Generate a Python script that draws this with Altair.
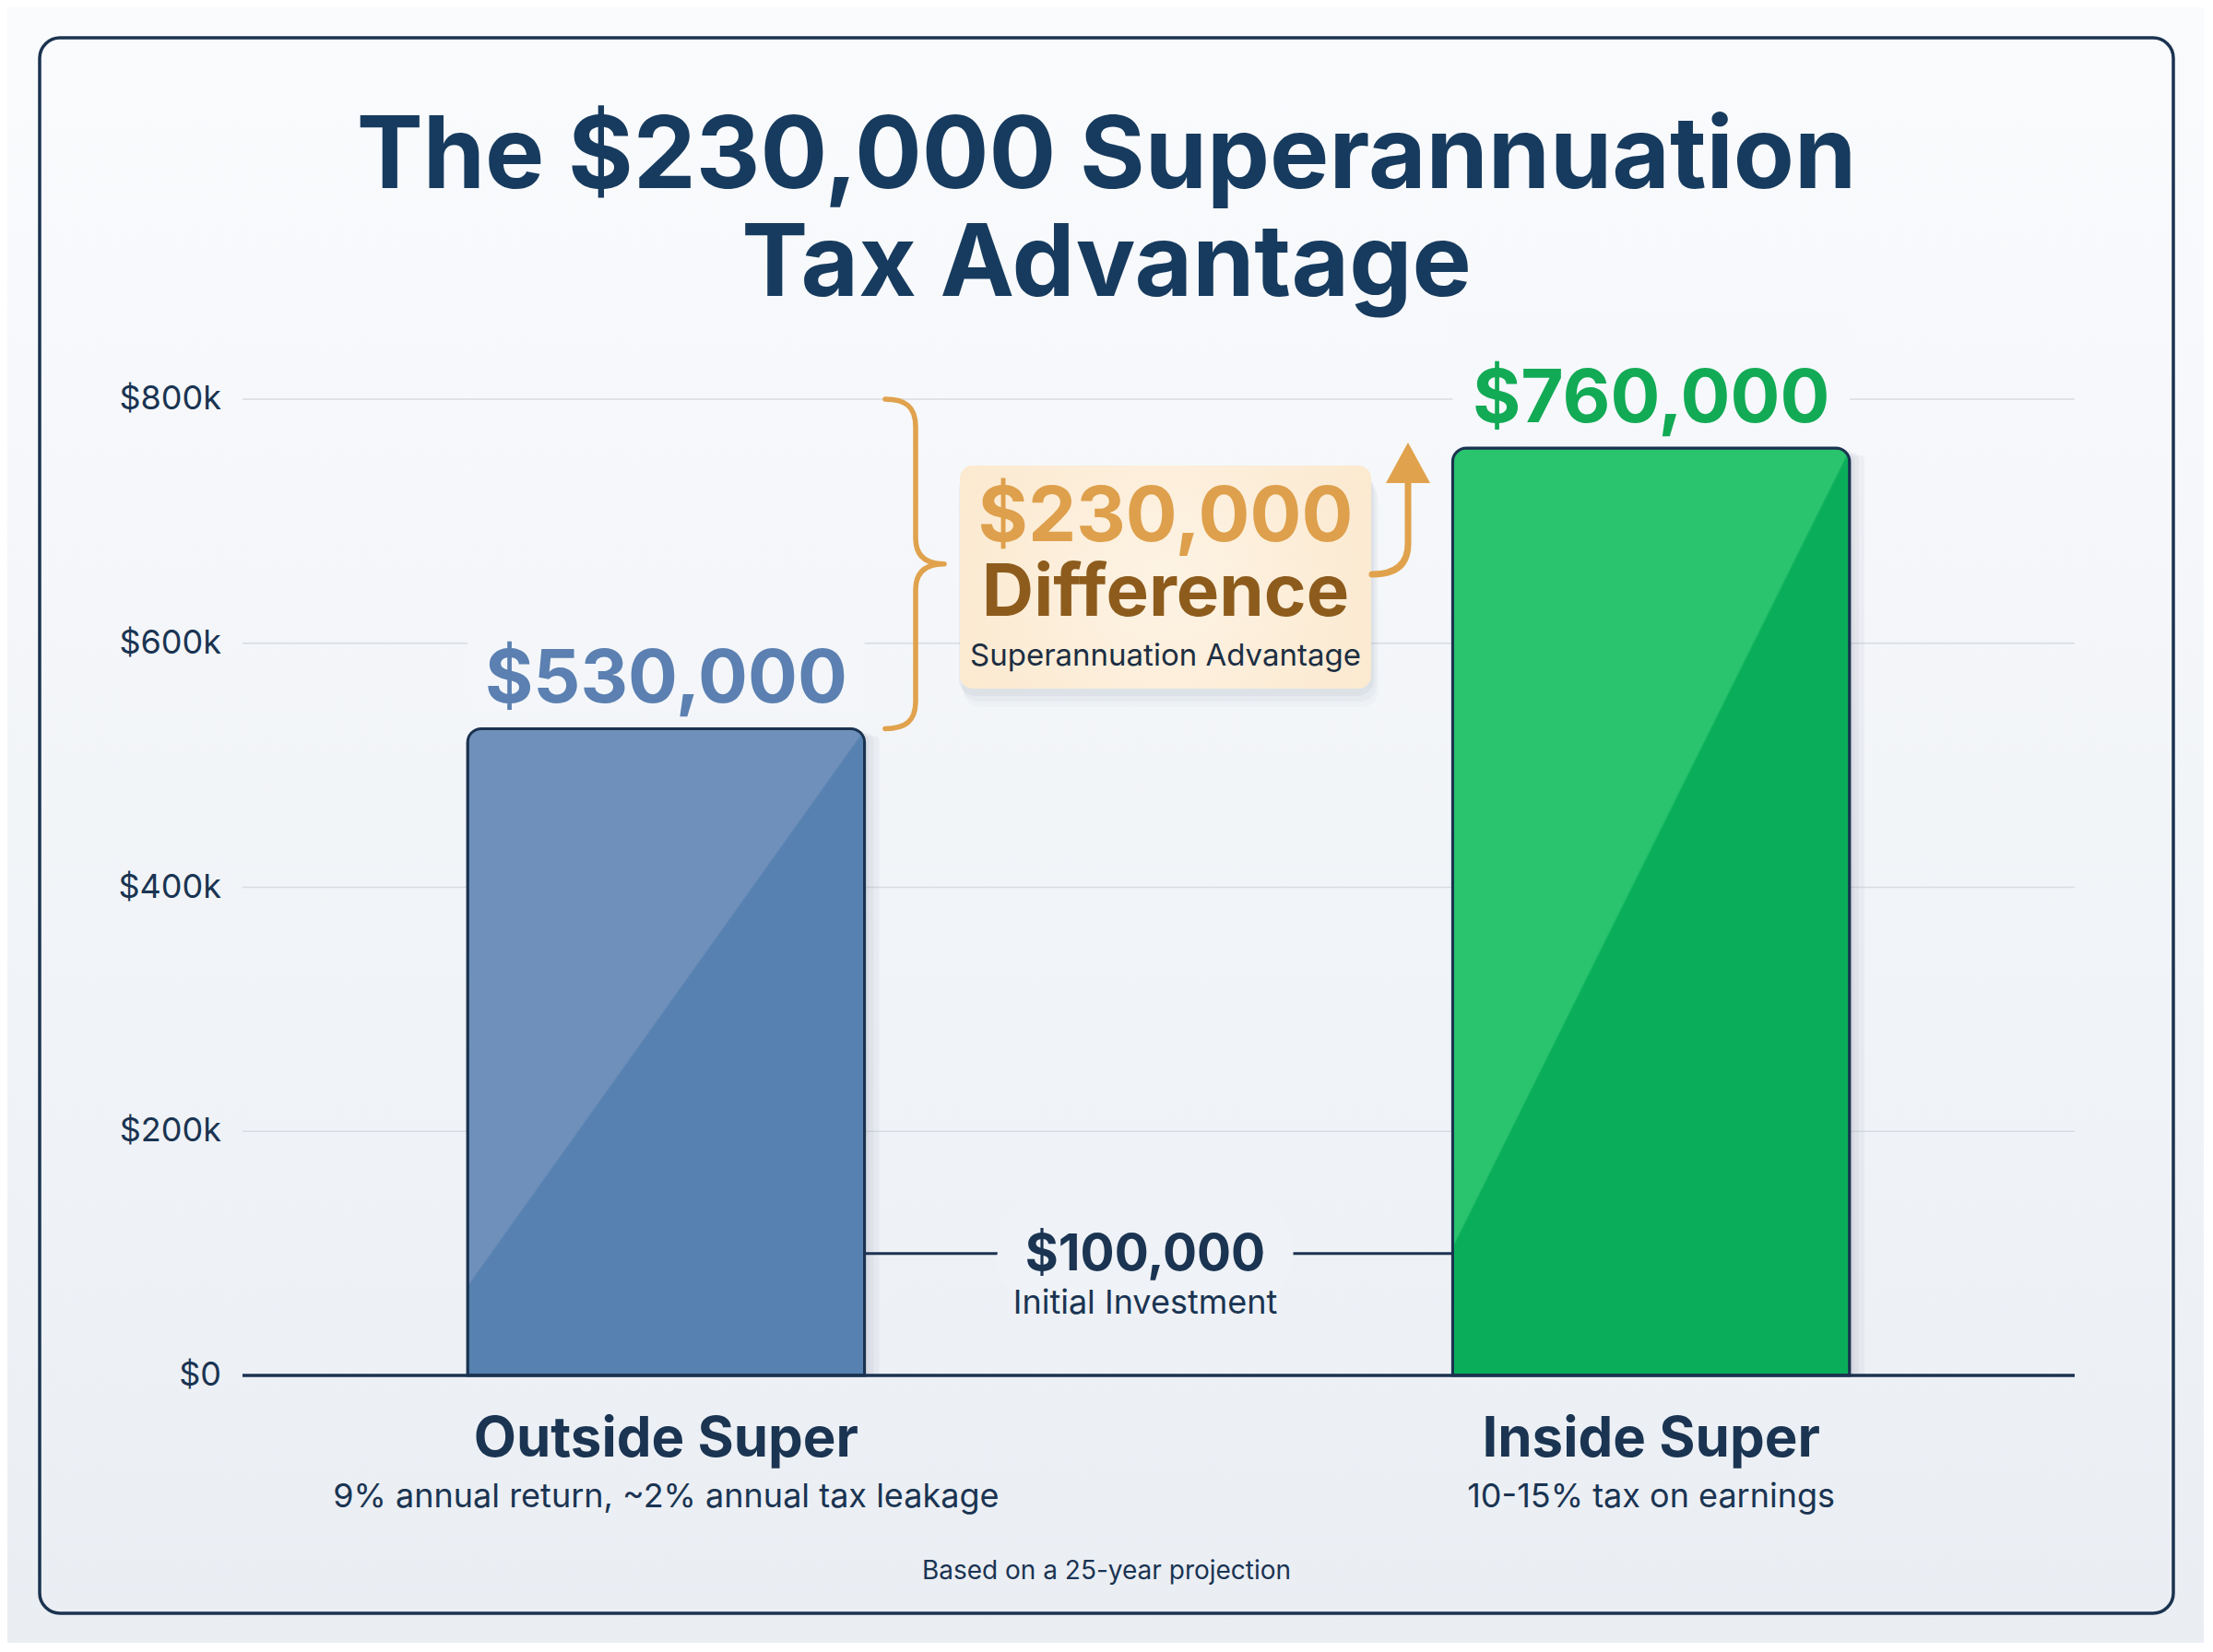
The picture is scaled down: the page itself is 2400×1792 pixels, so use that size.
import altair as alt
import pandas as pd

# ---------------- data ----------------
categories = ["Outside Super", "Inside Super"]
final_values = [530000, 760000]
descriptions = ["9% annual return, ~2% annual tax leakage", "10-15% tax on earnings"]
initial_investment = [100000]
initial_label = ["Initial Investment"]
y_ticks = [0, 200000, 400000, 600000, 800000]
title_lines = ["The $230,000 Superannuation", "Tax Advantage"]
difference_words = ["Difference", "Superannuation Advantage"]
footnote = ["Based on a 25-year projection"]

# ---------------- layout / style ----------------
FONT = "Inter"
PL, PT = 263, 433          # plot origin on the page
W, H = 1987, 1059          # plot size
NAVY = "#1b3350"
NAVY_T = "#1a3452"
TITLE_C = "#173b5e"
ORANGE = "#e0a24c"
BLUE_T = "#5b80b1"
GREEN_T = "#12aa55"


def px(x):
    return x - PL


def py(y):
    return y - PT


def money(v):
    return "${:,}".format(v)


def shape_path(segments, cx, cy, s):
    parts = []
    for cmd, pts in segments:
        coords = " ".join(f"{(x - cx) / s:.4f} {(y - cy) / s:.4f}" for x, y in pts)
        parts.append(f"{cmd} {coords}".strip())
    return " ".join(parts)


ymax = y_ticks[-1]
difference = final_values[1] - final_values[0]

bars_df = pd.DataFrame({"cat": categories, "value": final_values, "desc": descriptions})
bars_df["label"] = bars_df["value"].map(money)

xscale = alt.Scale(domain=categories, paddingInner=0.597, paddingOuter=0.2285)
yscale = alt.Scale(domain=[0, ymax], nice=False)


def X(f="cat:N", **kw):
    return alt.X(f, scale=xscale, axis=None, **kw)


def Y(f):
    return alt.Y(f, scale=yscale, axis=None)


one = pd.DataFrame({"k": [0]})
layers = []

# page background gradient
layers.append(
    alt.Chart(one).mark_rect(
        fill=alt.LinearGradient(
            gradient="linear",
            stops=[alt.GradientStop(color="#fafbfd", offset=0),
                   alt.GradientStop(color="#eaeef3", offset=1)],
            x1=0, x2=0, y1=0, y2=1)
    ).encode(x=alt.value(px(8)), x2=alt.value(px(2392)),
             y=alt.value(py(8)), y2=alt.value(py(1784)))
)

# frame
layers.append(
    alt.Chart(one).mark_rect(filled=False, stroke=NAVY, strokeWidth=3.5, cornerRadius=22)
    .encode(x=alt.value(px(43)), x2=alt.value(px(2357)),
            y=alt.value(py(41)), y2=alt.value(py(1750)))
)

# gridlines
ticks_df = pd.DataFrame({"tick": y_ticks})
layers.append(
    alt.Chart(ticks_df).transform_filter("datum.tick > 0")
    .mark_rule(color="#d7dce2", strokeWidth=1.5)
    .encode(y=Y("tick:Q"))
)

# y labels
layers.append(
    alt.Chart(ticks_df)
    .transform_calculate(lab="datum.tick == 0 ? '$0' : '$' + (datum.tick/1000) + 'k'")
    .mark_text(align="right", baseline="middle", fontSize=36, font=FONT, color=NAVY_T)
    .encode(x=alt.value(-23), y=Y("tick:Q"), text="lab:N")
)

# knock-outs behind value labels
layers.append(
    alt.Chart(bars_df)
    .transform_calculate(k0="datum.value + 15000", k1="datum.value + 110000")
    .mark_rect()
    .encode(x=X(), y=Y("k0:Q"), y2="k1:Q",
            fill=alt.Fill("cat:N", scale=alt.Scale(domain=categories, range=["#f4f6f9", "#f6f8fb"]),
                          legend=None))
)

# bar shadows
for off in [5, 10, 16]:
    layers.append(
        alt.Chart(bars_df).mark_bar(fill="#5f6e82", opacity=0.06, xOffset=off, x2Offset=off,
                                    yOffset=off * 0.5,
                                    cornerRadiusTopLeft=15, cornerRadiusTopRight=15)
        .encode(x=X(), y=Y("value:Q"))
    )

# bars with glossy diagonal gradient
bar_colors = {categories[0]: ("#6f90ba", "#5681b1"), categories[1]: ("#2ac36e", "#0aae5a")}
for cat in categories:
    light, dark = bar_colors[cat]
    grad = alt.LinearGradient(
        gradient="linear",
        stops=[alt.GradientStop(color=light, offset=0),
               alt.GradientStop(color=light, offset=0.494),
               alt.GradientStop(color=dark, offset=0.497),
               alt.GradientStop(color=dark, offset=1)],
        x1=0, y1=0, x2=0.86, y2=1)
    layers.append(
        alt.Chart(bars_df).transform_filter(alt.datum.cat == cat)
        .mark_bar(fill=grad, stroke=NAVY, strokeWidth=3,
                  cornerRadiusTopLeft=15, cornerRadiusTopRight=15)
        .encode(x=X(), y=Y("value:Q"))
    )

# baseline
layers.append(
    alt.Chart(pd.DataFrame({"zero": [y_ticks[0]]}))
    .mark_rule(color=NAVY, strokeWidth=3.5)
    .encode(y=Y("zero:Q"))
)

# value labels
layers.append(
    alt.Chart(bars_df).mark_text(dy=-28, fontSize=80, fontWeight="bold", font=FONT,
                                 baseline="alphabetic")
    .encode(x=X(), y=Y("value:Q"), text="label:N",
            color=alt.Color("cat:N", scale=alt.Scale(domain=categories, range=[BLUE_T, GREEN_T]),
                            legend=None))
)

# category labels and descriptions
layers.append(
    alt.Chart(bars_df).transform_calculate(zero="0")
    .mark_text(dy=88, fontSize=60, fontWeight="bold", font=FONT, color=NAVY_T, baseline="alphabetic")
    .encode(x=X(), y=Y("zero:Q"), text="cat:N")
)
layers.append(
    alt.Chart(bars_df).transform_calculate(zero="0")
    .mark_text(dy=143, fontSize=36, font=FONT, color=NAVY_T, baseline="alphabetic")
    .encode(x=X(), y=Y("zero:Q"), text="desc:N")
)

# initial investment connector
init_df = pd.DataFrame({"start": [categories[0]], "end": [categories[1]],
                        "amount": initial_investment,
                        "label": [money(initial_investment[0])], "sub": initial_label})
layers.append(
    alt.Chart(init_df).mark_rule(color=NAVY, strokeWidth=3)
    .encode(x=X("start:N", bandPosition=1), x2=alt.X2("end:N", bandPosition=0), y=Y("amount:Q"))
)
layers.append(
    alt.Chart(init_df).mark_text(dy=18, fontSize=55, fontWeight="bold", font=FONT,
                                 fill="#eff2f6", stroke="#eff2f6", strokeWidth=66,
                                 strokeJoin="round", baseline="alphabetic")
    .encode(x=alt.value(px(1242)), y=Y("amount:Q"), text="label:N")
)
layers.append(
    alt.Chart(init_df).mark_text(dy=18, fontSize=55, fontWeight="bold", font=FONT,
                                 color=NAVY_T, baseline="alphabetic")
    .encode(x=alt.value(px(1242)), y=Y("amount:Q"), text="label:N")
)
layers.append(
    alt.Chart(init_df).mark_text(dy=65, fontSize=36, font=FONT, color=NAVY_T, baseline="alphabetic")
    .encode(x=alt.value(px(1242)), y=Y("amount:Q"), text="sub:N")
)

# footnote
layers.append(
    alt.Chart(pd.DataFrame({"t": footnote, "zero": [0]}))
    .mark_text(dy=221, fontSize=28, font=FONT, color=NAVY_T, baseline="alphabetic")
    .encode(x=alt.value(px(1200)), y=Y("zero:Q"), text="t:N")
)

# curly brace between the two levels
T = PT + H * (1 - ymax / ymax)
B = PT + H * (1 - final_values[0] / ymax)
M = (T + B) / 2
half = (B - T) / 2
brace_path = shape_path([
    ("M", [(960, T)]),
    ("C", [(982, T), (993, T + 8), (993, T + 30)]),
    ("L", [(993, M - 28)]),
    ("C", [(993, M - 8), (1005, M), (1024, M)]),
    ("C", [(1005, M), (993, M + 8), (993, M + 28)]),
    ("L", [(993, B - 30)]),
    ("C", [(993, B - 8), (982, B), (960, B)]),
], 991.5, M, half)
brace_df = pd.DataFrame({"lo": [final_values[0]], "hi": [ymax]})
layers.append(
    alt.Chart(brace_df).transform_calculate(mid="(datum.lo + datum.hi) / 2")
    .mark_point(shape=brace_path, size=(2 * half) ** 2, filled=False, stroke=ORANGE,
                strokeWidth=5.5, opacity=1, strokeCap="round", strokeJoin="round")
    .encode(x=alt.value(px(991.5)), y=Y("mid:Q"))
)

# difference box: shadow + box
for dx_, dy_, op in [(3, 8, 0.10), (6, 14, 0.06), (8, 20, 0.04)]:
    layers.append(
        alt.Chart(one).mark_rect(fill="#7f8ea3", opacity=op, cornerRadius=18)
        .encode(x=alt.value(px(1041 + dx_ - 4)), x2=alt.value(px(1487 + dx_)),
                y=alt.value(py(505 + dy_)), y2=alt.value(py(747 + dy_)))
    )
layers.append(
    alt.Chart(one).mark_rect(
        cornerRadius=14,
        fill=alt.RadialGradient(
            gradient="radial",
            stops=[alt.GradientStop(color="#fdf3e4", offset=0),
                   alt.GradientStop(color="#fbe6c9", offset=1)],
            x1=0.5, y1=0.5, r1=0, x2=0.5, y2=0.5, r2=0.75))
    .encode(x=alt.value(px(1041)), x2=alt.value(px(1487)),
            y=alt.value(py(505)), y2=alt.value(py(747)))
)
box_df = pd.DataFrame({"amt": [money(difference)], "w1": [difference_words[0]],
                       "w2": [difference_words[1]]})
layers.append(
    alt.Chart(box_df).mark_text(fontSize=83, fontWeight="bold", font=FONT, color="#dea04c",
                                baseline="alphabetic")
    .encode(x=alt.value(px(1264)), y=alt.value(py(587)), text="amt:N")
)
layers.append(
    alt.Chart(box_df).mark_text(fontSize=78, fontWeight="bold", font=FONT, color="#8d5c1d",
                                baseline="alphabetic")
    .encode(x=alt.value(px(1264)), y=alt.value(py(668)), text="w1:N")
)
layers.append(
    alt.Chart(box_df).mark_text(fontSize=33, font=FONT, color="#1c2e42", baseline="alphabetic")
    .encode(x=alt.value(px(1264)), y=alt.value(py(722)), text="w2:N")
)

# arrow from box up to the green bar level
ACX, ACY, AS = 1515, 552, 80
stem = shape_path([
    ("M", [(1488, 623)]),
    ("C", [(1514, 623), (1527, 612), (1527, 590)]),
    ("L", [(1527, 520)]),
], ACX, ACY, AS)
head = shape_path([
    ("M", [(1527, 480)]),
    ("L", [(1551, 524)]),
    ("L", [(1503, 524)]),
    ("Z", []),
], ACX, ACY, AS)
layers.append(
    alt.Chart(one).mark_point(shape=stem, size=(2 * AS) ** 2, filled=False, stroke=ORANGE,
                              strokeWidth=7, opacity=1, strokeCap="round")
    .encode(x=alt.value(px(ACX)), y=alt.value(py(ACY)))
)
layers.append(
    alt.Chart(one).mark_point(shape=head, size=(2 * AS) ** 2, filled=True, fill=ORANGE,
                              opacity=1, strokeWidth=0)
    .encode(x=alt.value(px(ACX)), y=alt.value(py(ACY)))
)

# title
title_df = pd.DataFrame({"a": [title_lines[0]], "b": [title_lines[1]]})
layers.append(
    alt.Chart(title_df).mark_text(fontSize=108, fontWeight="bold", font=FONT, color=TITLE_C,
                                  baseline="alphabetic")
    .encode(x=alt.value(px(1200)), y=alt.value(py(204)), text="a:N")
)
layers.append(
    alt.Chart(title_df).mark_text(fontSize=108, fontWeight="bold", font=FONT, color=TITLE_C,
                                  baseline="alphabetic")
    .encode(x=alt.value(px(1200)), y=alt.value(py(321)), text="b:N")
)

chart = (
    alt.layer(*layers)
    .resolve_scale(color="independent", fill="independent")
    .properties(width=W, height=H, background="#f3f6f9",
                padding={"left": PL - 8, "top": PT - 8, "right": 140, "bottom": 290},
                autosize=alt.AutoSizeParams(type="none"))
    .configure_view(stroke=None)
)

chart.save("out.html", embed_options={"renderer": "svg", "actions": False})
